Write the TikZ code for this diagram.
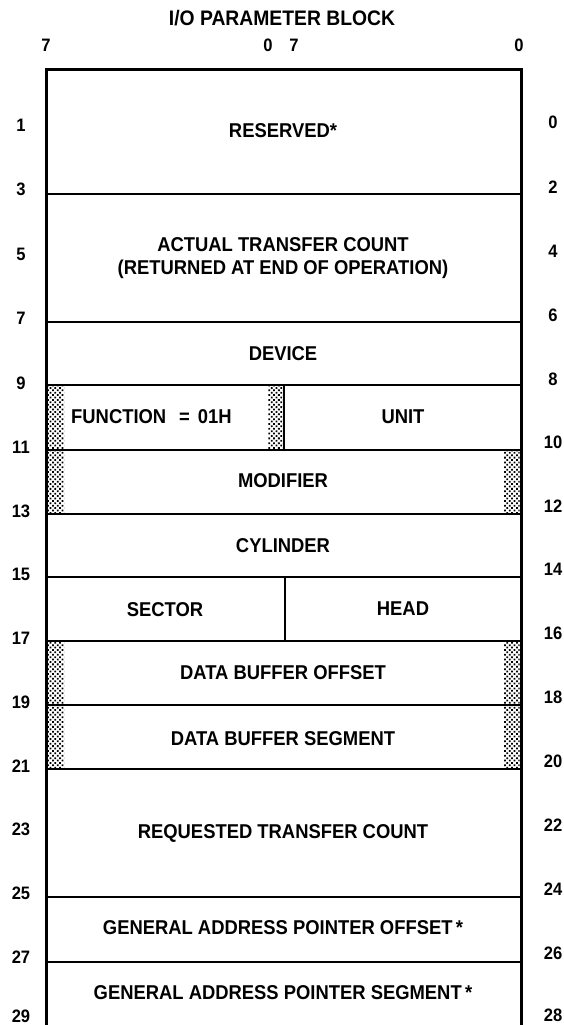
\documentclass[tikz,border=0pt]{standalone}
\usepackage{fontspec}
\setmainfont{Liberation Sans}
\newfontfamily\lblfont{Liberation Sans}[FakeStretch=0.92]
\usetikzlibrary{patterns.meta}
\begin{document}
\begin{tikzpicture}[x=1pt,y=-1pt,
  lbl/.style={inner sep=0pt,font=\lblfont\fontsize{20}{23}\selectfont\bfseries},
  num/.style={inner sep=0pt,font=\lblfont\fontsize{18}{20}\selectfont\bfseries},
  outer/.style={line width=3pt},
  hline/.style={line width=2pt},
  vline/.style={line width=1.6pt},
  dotfill/.style={pattern={Dots[distance=3.4pt,angle=45,radius=1.25pt]},pattern color=black}]
\useasboundingbox (0,0) rectangle (564,1025);
% stripes
\fill[dotfill] (47.5,386) rectangle (64,449);
\fill[dotfill] (268,386) rectangle (283.5,449);
\fill[dotfill] (47.5,451) rectangle (64,513);
\fill[dotfill] (504,451) rectangle (519.5,513);
\fill[dotfill] (47.5,642) rectangle (64,704);
\fill[dotfill] (504,642) rectangle (519.5,704);
\fill[dotfill] (47.5,706) rectangle (64,768);
\fill[dotfill] (504,706) rectangle (519.5,768);
% frame
\coordinate (tl) at (46,70);
\coordinate (tr) at (521,70);
\coordinate (bl) at (46,1035);
\coordinate (br) at (521,1035);
\draw[outer] (bl) -- (tl) -- (tr) -- (br);
% horizontal lines
\foreach \y in {194,322,385,450,514,577,641,705,769,897,962}
  \draw[hline] (46,\y) -- (521,\y);
% vertical dividers
\draw[vline] (284,385) -- (284,450);
\draw[vline] (285,577) -- (285,641);
% title and columns
\node[lbl,font=\lblfont\fontsize{21}{23}\selectfont\bfseries] (title) at (282,18) {I/O PARAMETER BLOCK};
\node[num] (c7a) at (46,45) {7};
\node[num] (c0a) at (268,45) {0};
\node[num] (c7b) at (294,45) {7};
\node[num] (c0b) at (519,45) {0};
% field labels
\node[lbl] (reserved) at (283,131) {RESERVED*};
\node[lbl,align=center] (actual) at (283,258) {ACTUAL TRANSFER COUNT\\(RETURNED AT END OF OPERATION)};
\node[lbl] (device) at (283,354) {DEVICE};
\node[lbl,anchor=west] (function) at (71,417) {FUNCTION\hspace{13pt}=\hspace{8pt}01H};
\node[lbl] (unit) at (403,417) {UNIT};
\node[lbl] (modifier) at (283,481) {MODIFIER};
\node[lbl] (cylinder) at (283,546) {CYLINDER};
\node[lbl] (sector) at (165,610) {SECTOR};
\node[lbl] (head) at (403,609) {HEAD};
\node[lbl] (dbo) at (283,673) {DATA BUFFER OFFSET};
\node[lbl] (dbs) at (283,739) {DATA BUFFER SEGMENT};
\node[lbl] (rtc) at (283,833) {REQUESTED TRANSFER COUNT};
\node[lbl] (gapo) at (283,928) {GENERAL ADDRESS POINTER OFFSET\,*};
\node[lbl] (gaps) at (283,993) {GENERAL ADDRESS POINTER SEGMENT\,*};
% left row numbers
\foreach \n/\y in {1/125,3/189,5/254,7/318,9/383,11/447,13/511,15/574,17/638,19/702,21/766,23/829,25/893,27/957,29/1016}
  \node[num] (l\n) at (21,\y) {\n};
% right row numbers
\foreach \n/\y in {0/122,2/187,4/251,6/315,8/379,10/442,12/506,14/569,16/633,18/697,20/761,22/825,24/889,26/953,28/1015}
  \node[num] (r\n) at (553,\y) {\n};
\end{tikzpicture}
\end{document}
